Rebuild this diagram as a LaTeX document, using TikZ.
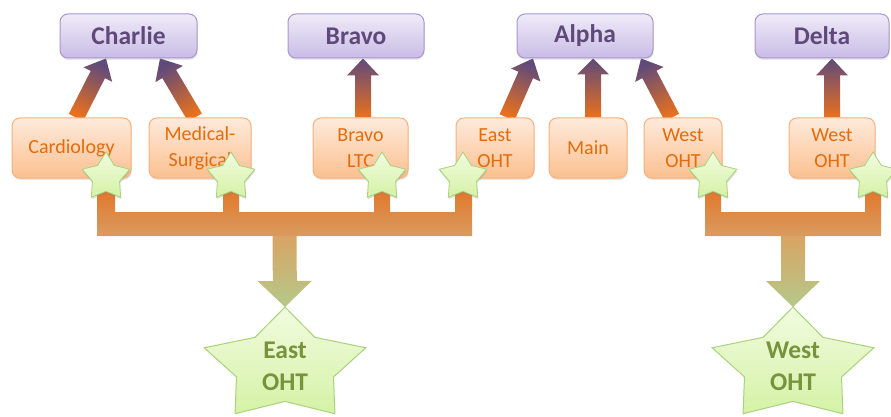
\documentclass[tikz,border=0pt]{standalone}
\usepackage{fontspec}
\setmainfont{Carlito}
\usetikzlibrary{shapes.geometric,calc,shadows}
\definecolor{pTop}{HTML}{F0EBF8}
\definecolor{pBot}{HTML}{C9BCE6}
\definecolor{pBorder}{HTML}{A896CC}
\definecolor{pText}{HTML}{5F497A}
\definecolor{oTop}{HTML}{FEEADC}
\definecolor{oBot}{HTML}{FBC08F}
\definecolor{oBorder}{HTML}{F8B07A}
\definecolor{oText}{HTML}{E46C0A}
\definecolor{arO}{HTML}{E8701E}
\definecolor{arP}{HTML}{5F4A7B}
\definecolor{brO}{HTML}{E46D1C}
\definecolor{brT}{HTML}{DA9B60}
\definecolor{dnT}{HTML}{D8A464}
\definecolor{dnG}{HTML}{B5C98A}
\definecolor{gTop}{HTML}{F1FBDF}
\definecolor{gBot}{HTML}{D5F2A6}
\definecolor{gBorder}{HTML}{A9D27C}
\definecolor{gText}{HTML}{77933C}
\pgfdeclarelayer{bg}
\pgfsetlayers{bg,main}
\newcommand\blockarr[6]{%
  \coordinate (bam) at ($(#3)!#6!(#2)$);
  \path[#1] ($(#2)!#4!90:(#3)$) -- ($(bam)!#4!-90:(#2)$) -- ($(bam)!#5!-90:(#2)$) -- (#3)
     -- ($(bam)!#5!90:(#2)$) -- ($(bam)!#4!90:(#2)$) -- ($(#2)!#4!-90:(#3)$) -- cycle;}
\begin{document}
\begin{tikzpicture}[x=1pt,y=-1pt,
  topbox/.style={rectangle, rounded corners=8pt, draw=pBorder, line width=1pt,
    top color=pTop, bottom color=pBot, minimum height=44pt, text=pText,
    font=\fontsize{25.5}{30}\selectfont\bfseries,
    drop shadow={shadow xshift=0.5pt, shadow yshift=-2pt, opacity=0.2}},
  unitbox/.style={rectangle, rounded corners=8pt, draw=oBorder, line width=1pt,
    top color=oTop, bottom color=oBot, minimum height=60pt, text=oText, align=center,
    inner sep=1pt, font=\fontsize{20}{26}\selectfont,
    drop shadow={shadow xshift=0.5pt, shadow yshift=-2pt, opacity=0.2}},
  smallstar/.style={star, star points=5, star point ratio=1.75, minimum size=50pt,
    inner sep=0pt, draw=gBorder, line width=0.8pt, top color=gTop, bottom color=gBot,
    drop shadow={shadow xshift=0.5pt, shadow yshift=-2pt, opacity=0.25}},
  bigstarfill/.style={draw=gBorder, line width=1pt, top color=gTop, bottom color=gBot},
  bigtext/.style={text=gText, align=center, font=\fontsize{25.5}{32}\selectfont\bfseries},
  uparr/.style={top color=arP, bottom color=arO},
  bracketfill/.style={top color=brO, middle color=brO, bottom color=brT},
  downarr/.style={top color=dnT, bottom color=dnG}]
\useasboundingbox (0,0) rectangle (891,417);
% top boxes
\node[topbox, minimum width=137pt] (charlie) at (128.5,36) {Charlie};
\node[topbox, minimum width=136pt] (bravo) at (356,36) {Bravo};
\node[topbox, minimum width=136pt] (alpha) at (585,36) {Alpha};
\node[topbox, minimum width=134pt] (delta) at (822,36) {Delta};
% unit boxes
\node[unitbox, minimum width=119pt] (cardio) at (71.5,148) {Cardiology};
\node[unitbox, minimum width=102pt] (medsurg) at (200,148) {Medical-\\Surgical};
\node[unitbox, minimum width=95pt] (bravoltc) at (360.5,148) {Bravo\\LTC};
\node[unitbox, minimum width=78pt] (eastoht) at (495,148) {East\\OHT};
\node[unitbox, minimum width=78pt] (main) at (588,148) {Main};
\node[unitbox, minimum width=78pt] (westa) at (683,148) {West\\OHT};
\node[unitbox, minimum width=86pt] (westd) at (832,148) {West\\OHT};
% small stars
\node[smallstar] (s1) at (106,177) {};
\node[smallstar] (s2) at (231,177) {};
\node[smallstar] (s3) at (382,177) {};
\node[smallstar] (s4) at (463,177) {};
\node[smallstar] (s5) at (713,177) {};
\node[smallstar] (s6) at (873,177) {};
% big stars
\coordinate (ec) at (285,366);
\coordinate (wc) at (793,366);
\begin{pgfonlayer}{bg}
\begin{scope}[shift={(ec)}, xscale=85, yscale=59]
  \path[bigstarfill] (270:1) -- (306:0.6) -- (342:1) -- (18:0.6) -- (54:1) -- (90:0.6)
    -- (126:1) -- (162:0.6) -- (198:1) -- (234:0.6) -- cycle;
\end{scope}
\begin{scope}[shift={(wc)}, xscale=85, yscale=59]
  \path[bigstarfill] (270:1) -- (306:0.6) -- (342:1) -- (18:0.6) -- (54:1) -- (90:0.6)
    -- (126:1) -- (162:0.6) -- (198:1) -- (234:0.6) -- cycle;
\end{scope}
\end{pgfonlayer}
\node[bigtext] (estar) at (ec) {East\\OHT};
\node[bigtext] (wstar) at (wc) {West\\OHT};
\coordinate (etop) at ($(ec)+(0,-59)$);
\coordinate (wtop) at ($(wc)+(0,-59)$);
% bracket helper levels
\coordinate (lb) at (0,236);
\coordinate (lt) at (0,212);
\begin{pgfonlayer}{bg}
% up arrows
\coordinate (a1) at ($(cardio.north)+(4.5,0)$);  \coordinate (b1) at ($(charlie.south)+(-22.5,0)$);
\coordinate (a2) at ($(medsurg.north)+(-5,0)$);  \coordinate (b2) at ($(charlie.south)+(31.5,0)$);
\coordinate (a3) at ($(bravoltc.north)+(2.5,0)$); \coordinate (b3) at ($(bravo.south)+(7,0)$);
\coordinate (a4) at ($(eastoht.north)+(12,0)$);  \coordinate (b4) at ($(alpha.south)+(-52,0)$);
\coordinate (a5) at ($(main.north)+(5,0)$);      \coordinate (b5) at ($(alpha.south)+(8,0)$);
\coordinate (a6) at ($(westa.north)+(-11,0)$);   \coordinate (b6) at ($(alpha.south)+(56,0)$);
\coordinate (a7) at ($(westd.north)+(0,0)$);     \coordinate (b7) at ($(delta.south)+(10,0)$);
\blockarr{uparr, shading angle=-26}{a1}{b1}{8pt}{16pt}{18pt}
\blockarr{uparr, shading angle=30}{a2}{b2}{8pt}{16pt}{18pt}
\blockarr{uparr}{a3}{b3}{8pt}{16pt}{17pt}
\blockarr{uparr, shading angle=-23}{a4}{b4}{8pt}{16pt}{18pt}
\blockarr{uparr}{a5}{b5}{8pt}{16pt}{16pt}
\blockarr{uparr, shading angle=27}{a6}{b6}{8pt}{16pt}{18pt}
\blockarr{uparr}{a7}{b7}{8pt}{16pt}{17pt}
% left bracket
\path[bracketfill] ($(s1.center)+(-9,0)$) -- ($(s1.center|-lb)+(-9,0)$) -- ($(s4.center|-lb)+(9,0)$)
  -- ($(s4.center)+(9,0)$) -- ($(s4.center)+(-8,0)$) -- ($(s4.center|-lt)+(-8,0)$)
  -- ($(s3.center|-lt)+(8,0)$) -- ($(s3.center)+(8,0)$) -- ($(s3.center)+(-8,0)$)
  -- ($(s3.center|-lt)+(-8,0)$) -- ($(s2.center|-lt)+(8,0)$) -- ($(s2.center)+(8,0)$)
  -- ($(s2.center)+(-8,0)$) -- ($(s2.center|-lt)+(-8,0)$) -- ($(s1.center|-lt)+(9,0)$)
  -- ($(s1.center)+(9,0)$) -- cycle;
% right bracket
\path[bracketfill] ($(s5.center)+(-8,0)$) -- ($(s5.center|-lb)+(-8,0)$) -- ($(s6.center|-lb)+(8,0)$)
  -- ($(s6.center)+(8,0)$) -- ($(s6.center)+(-8,0)$) -- ($(s6.center|-lt)+(-8,0)$)
  -- ($(s5.center|-lt)+(8,0)$) -- ($(s5.center)+(8,0)$) -- cycle;
% down arrows
\coordinate (ea) at ($(s1.center|-lb)!0.5!(s4.center|-lb)$);
\coordinate (wa) at ($(s5.center|-lb)!0.5!(s6.center|-lb)$);
\blockarr{downarr}{ea}{etop}{12pt}{27pt}{26pt}
\blockarr{downarr}{wa}{wtop}{12pt}{27pt}{26pt}
\end{pgfonlayer}
\end{tikzpicture}
\end{document}
